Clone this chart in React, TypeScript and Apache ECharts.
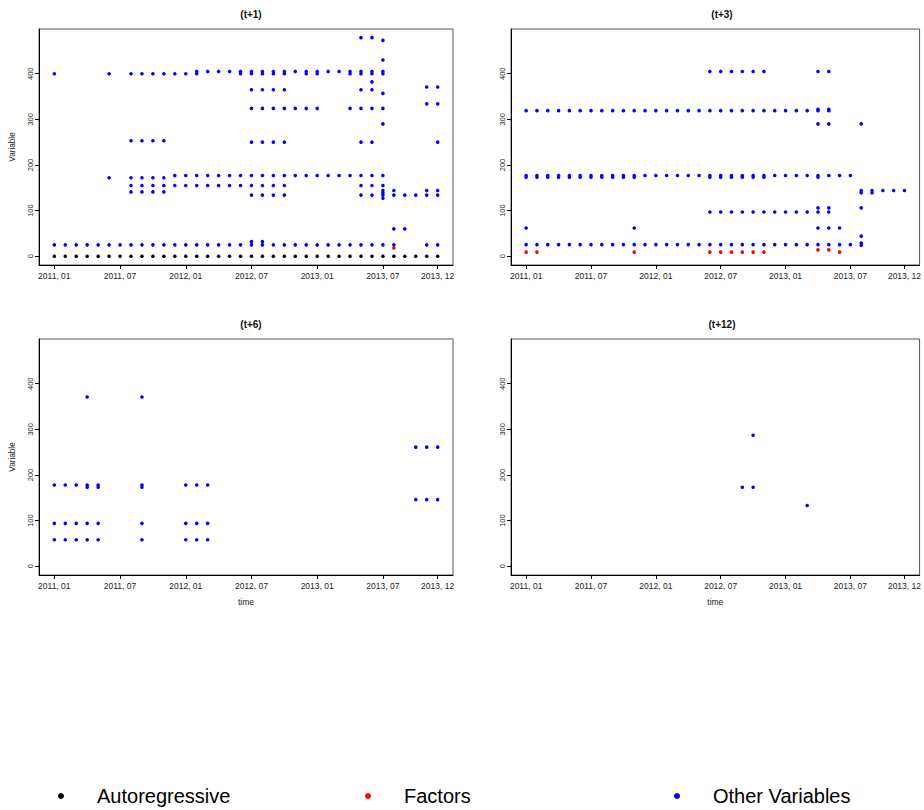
import React, { useEffect, useRef } from "react";
import * as echarts from "echarts";

// ---- axis ticks (months since 2011-01) ----
const xTickMonths = [0, 6, 12, 18, 24, 30, 35];
const xTickLabels = ["2011, 01", "2011, 07", "2012, 01", "2012, 07", "2013, 01", "2013, 07", "2013, 12"];
const yTicks = [0, 100, 200, 300, 400];
const panelTitles = ["(t+1)", "(t+3)", "(t+6)", "(t+12)"];
const legendNames = ["Autoregressive", "Factors", "Other Variables"];
const legendColors = ["#000000", "#FF0000", "#0000FF"];

// rows: [value, months where the variable was selected]
type Row = [number, number[]];

// ---- (t+1) ----
const ar1: Row[] = [
  [0, [0, 1, 2, 3, 4, 5, 6, 7, 8, 9, 10, 11, 12, 13, 14, 15, 16, 17, 18, 19, 20, 21, 22, 23, 24, 25, 26, 27, 28, 29, 30, 31, 32, 33, 34, 35]],
];
const factors1: Row[] = [[18, [31]]];
const other1: Row[] = [
  [25, [0, 1, 2, 3, 4, 5, 6, 7, 8, 9, 10, 11, 12, 13, 14, 15, 16, 17, 18, 19, 20, 21, 22, 23, 24, 25, 26, 27, 28, 29, 30, 31, 34, 35]],
  [32, [18, 19]],
  [400, [0, 5, 7, 8, 9, 10, 11, 12, 13, 17, 18, 19, 20, 21, 23, 24, 27, 28, 29, 30]],
  [405, [13, 14, 15, 16, 17, 18, 19, 20, 21, 22, 23, 24, 25, 26, 27, 28, 29, 30]],
  [479, [28, 29]],
  [473, [30]],
  [430, [30]],
  [382, [29]],
  [365, [18, 19, 20, 21, 28, 29]],
  [371, [34, 35]],
  [357, [30]],
  [334, [34, 35]],
  [324, [18, 19, 20, 21, 22, 23, 24, 27, 28, 29, 30]],
  [290, [30]],
  [253, [7, 8, 9, 10]],
  [250, [18, 19, 20, 21, 28, 29, 35]],
  [172, [5, 7, 8, 9, 10]],
  [177, [11, 12, 13, 14, 15, 16, 17, 18, 19, 20, 21, 22, 23, 24, 25, 26, 27, 28, 29, 30]],
  [155, [7, 8, 9, 10, 11, 12, 13, 14, 15, 16, 17, 18, 19, 20, 21, 28, 29, 30]],
  [141, [7, 8, 9, 10]],
  [144, [30, 31, 34, 35]],
  [139, [30]],
  [134, [18, 19, 20, 21, 28, 29, 30, 31, 32, 33, 34, 35]],
  [127, [30]],
  [60, [31, 32]],
];

// ---- (t+3) ----
const factors2: Row[] = [
  [9, [0, 1, 10, 17, 18, 19, 20, 21, 22, 29]],
  [14, [27, 28]],
];
const other2: Row[] = [
  [25.5, [0, 1, 2, 3, 4, 5, 6, 7, 8, 9, 10, 11, 12, 13, 14, 15, 16, 17, 18, 19, 20, 21, 22, 23, 24, 25, 26, 27, 28, 29, 30]],
  [24, [31]],
  [29, [31]],
  [62, [0, 10, 27, 28, 29]],
  [44, [31]],
  [97, [17, 18, 19, 20, 21, 22, 23, 24, 25, 26, 27, 28]],
  [106, [27, 28, 31]],
  [144, [31, 32, 33, 34, 35]],
  [139, [31, 32]],
  [173, [0, 1, 2, 3, 4, 5, 6, 7, 8, 9, 10, 17, 18, 19, 20, 21, 22, 27]],
  [177, [0, 1, 2, 3, 4, 5, 6, 7, 8, 9, 10, 11, 12, 13, 14, 15, 16, 17, 18, 19, 20, 21, 22, 23, 24, 25, 26, 27, 28, 29, 30]],
  [290, [27, 28, 31]],
  [319, [0, 1, 2, 3, 4, 5, 6, 7, 8, 9, 10, 11, 12, 13, 14, 15, 16, 17, 18, 19, 20, 21, 22, 23, 24, 25, 26, 27, 28]],
  [322, [27, 28]],
  [405, [17, 18, 19, 20, 21, 22, 27, 28]],
];

// ---- (t+6) ----
const other3: Row[] = [
  [371, [3, 8]],
  [261, [33, 34, 35]],
  [178, [0, 1, 2, 3, 4, 8, 12, 13, 14]],
  [173, [3, 4, 8]],
  [146, [33, 34, 35]],
  [94, [0, 1, 2, 3, 4, 8, 12, 13, 14]],
  [58, [0, 1, 2, 3, 4, 8, 12, 13, 14]],
];

// ---- (t+12) ----
const other4: Row[] = [
  [287, [21]],
  [173, [20, 21]],
  [133, [26]],
];

const panelRows: Row[][][] = [
  [ar1, factors1, other1],
  [[], factors2, other2],
  [[], [], other3],
  [[], [], other4],
];

const FONT = "'Liberation Sans', Arial, Helvetica, sans-serif";

const toPoints = (rows: Row[]) => rows.flatMap(([v, months]) => months.map((m) => [m, v]));

export default function App() {
  const ref = useRef<HTMLDivElement>(null);

  useEffect(() => {
    if (!ref.current) return;
    const chart = echarts.init(ref.current, null, { renderer: "svg" });

    const gridPos = [
      { left: 39, top: 29, width: 414, height: 236 },
      { left: 511, top: 29, width: 412, height: 236 },
      { left: 39, top: 339, width: 414, height: 236 },
      { left: 511, top: 339, width: 412, height: 236 },
    ];

    const grid = gridPos.map((g) => ({
      ...g,
      show: true,
      borderColor: "#555",
      borderWidth: 1,
      backgroundColor: "transparent",
    }));

    const title = gridPos.map((g, i) => ({
      text: panelTitles[i],
      left: g.left + g.width / 2,
      top: g.top - 25,
      textAlign: "center",
      textStyle: { fontSize: 10, fontWeight: "bold", color: "#111", fontFamily: FONT },
    }));

    const xAxis = gridPos.map((_, i) => ({
      type: "value",
      gridIndex: i,
      min: -1.4,
      max: 36.4,
      splitLine: { show: false },
      axisLine: { show: true, onZero: false, lineStyle: { color: "#000", width: 1 } },
      axisTick: { show: true, customValues: xTickMonths, length: 4, lineStyle: { color: "#000" } },
      axisLabel: {
        customValues: xTickMonths,
        formatter: (v: number) => {
          const k = xTickMonths.indexOf(Math.round(v));
          return k >= 0 ? xTickLabels[k] : "";
        },
        fontSize: 8.5,
        color: "#222",
        margin: 6,
        fontFamily: FONT,
        hideOverlap: false,
      },
      name: i >= 2 ? "time" : "",
      nameLocation: "middle",
      nameGap: 22,
      nameTextStyle: { fontSize: 8.5, color: "#222", fontFamily: FONT },
    }));

    const yAxis = gridPos.map((_, i) => ({
      type: "value",
      gridIndex: i,
      min: -19.2,
      max: 498,
      splitLine: { show: false },
      axisLine: { show: true, onZero: false, lineStyle: { color: "#000", width: 1 } },
      axisTick: { show: true, customValues: yTicks, length: 4, lineStyle: { color: "#000" } },
      axisLabel: {
        customValues: yTicks,
        rotate: 90,
        fontSize: 7.5,
        color: "#222",
        margin: 5,
        fontFamily: FONT,
      },
      name: i % 2 === 0 ? "Variable" : "",
      nameLocation: "middle",
      nameRotate: 90,
      nameGap: 23,
      nameTextStyle: { fontSize: 8.2, color: "#222", fontFamily: FONT },
    }));

    const series: any[] = [];
    panelRows.forEach((cats, p) => {
      cats.forEach((rows, c) => {
        series.push({
          type: "scatter",
          name: legendNames[c],
          xAxisIndex: p,
          yAxisIndex: p,
          data: toPoints(rows),
          symbol: "circle",
          symbolSize: 3.6,
          itemStyle: { color: legendColors[c], opacity: 1 },
          emphasis: { disabled: true },
          z: 2 + c,
        });
      });
    });

    const legendIconX = [58, 365, 674];
    const legend = legendNames.map((n, i) => ({
      data: [{ name: n, icon: "circle", itemStyle: { color: legendColors[i] } }],
      left: legendIconX[i],
      top: 786,
      padding: 0,
      itemWidth: 6,
      itemHeight: 6,
      selectedMode: false,
      textStyle: { fontSize: 20, color: "#000", fontFamily: FONT, padding: [0, 0, 0, 28] },
    }));

    chart.setOption({
      animation: false,
      backgroundColor: "#ffffff",
      textStyle: { fontFamily: FONT },
      title,
      grid,
      xAxis,
      yAxis,
      legend,
      series,
    });

    return () => chart.dispose();
  }, []);

  return (
    <div
      ref={ref}
      style={{ position: "absolute", left: 0, top: 0, width: 924, height: 810, background: "#fff" }}
    />
  );
}
